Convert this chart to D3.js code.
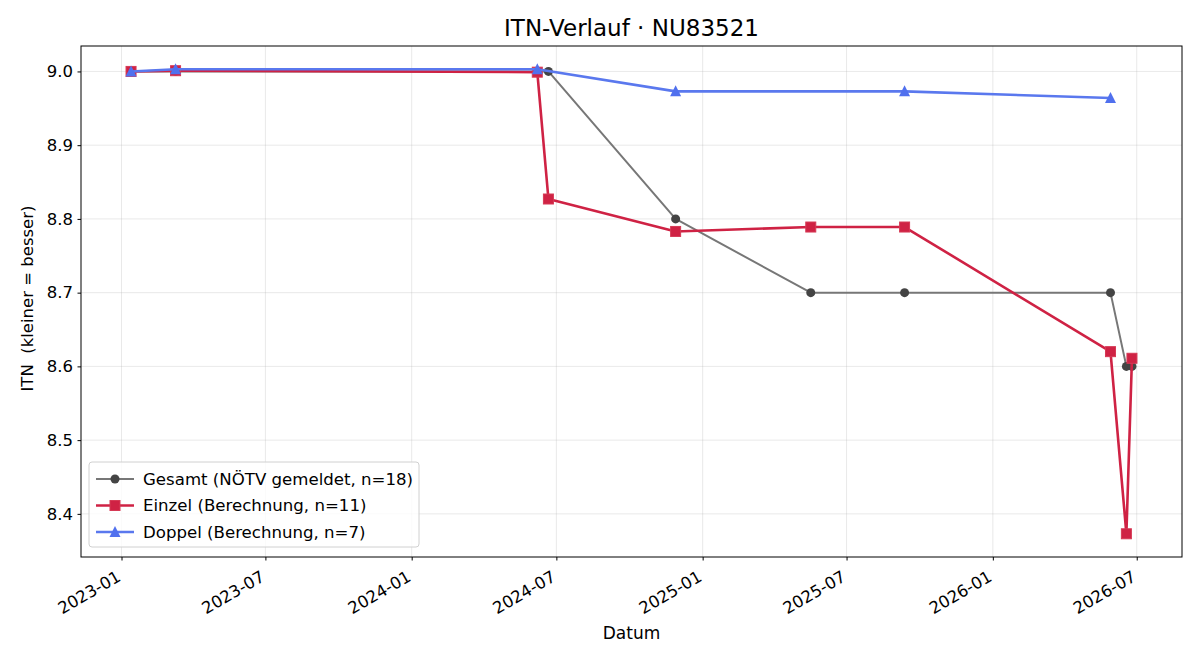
<!DOCTYPE html>
<html><head><meta charset="utf-8">
<script src="https://cdn.jsdelivr.net/npm/d3@7"></script>
<style>body{margin:0;background:#fff;} svg{font-family:"DejaVu Sans",sans-serif;} text{white-space:pre;}</style>
</head><body><svg id="c" width="1200" height="660"></svg>
<script>
const title = "ITN-Verlauf · NU83521";
const xLabel = "Datum";
const yLabel = "ITN  (kleiner = besser)";

const gesamtDates = ["2023-01-13","2023-03-10","2024-06-07","2024-06-21","2024-11-28","2025-05-17","2025-09-12","2026-05-29","2026-06-18","2026-06-25"];
const gesamtValues = [9.0, 9.0, 9.0, 9.0, 8.8, 8.7, 8.7, 8.7, 8.6, 8.6];

const einzelDates = ["2023-01-13","2023-03-10","2024-06-07","2024-06-21","2024-11-28","2025-05-17","2025-09-12","2026-05-29","2026-06-18","2026-06-25"];
const einzelValues = [9.0, 9.001, 8.999, 8.827, 8.783, 8.789, 8.789, 8.62, 8.373, 8.611];

const doppelDates = ["2023-01-13","2023-03-10","2024-06-07","2024-11-28","2025-09-12","2026-05-29"];
const doppelValues = [9.0, 9.003, 9.003, 8.973, 8.973, 8.964];

const xTickDates = ["2023-01-01","2023-07-01","2024-01-01","2024-07-01","2025-01-01","2025-07-01","2026-01-01","2026-07-01"];
const xTickLabels = ["2023-01","2023-07","2024-01","2024-07","2025-01","2025-07","2026-01","2026-07"];
const yTicks = [8.4, 8.5, 8.6, 8.7, 8.8, 8.9, 9.0];

const seriesNames = ["Gesamt (NÖTV gemeldet, n=18)", "Einzel (Berechnung, n=11)", "Doppel (Berechnung, n=7)"];

const parse = d3.utcParse("%Y-%m-%d");
const mk = (ds, vs) => ds.map((d, i) => ({x: parse(d), y: vs[i]}));
const series = [
  {name: seriesNames[0], data: mk(gesamtDates, gesamtValues), line: "#777777", mfill: "#444444", lw: 2, shape: "circle", ms: 4.5},
  {name: seriesNames[1], data: mk(einzelDates, einzelValues), line: "#cf2244", mfill: "#cf2244", lw: 2.6, shape: "square", ms: 10},
  {name: seriesNames[2], data: mk(doppelDates, doppelValues), line: "#5a78ee", mfill: "#5070ee", lw: 2.6, shape: "triangle", ms: 11}
];

const L = 81, R = 1182, T = 46, B = 557;
const svg = d3.select("#c");
const all = series.flatMap(s => s.data);
const xe = d3.extent(all, d => +d.x), ye = d3.extent(all, d => d.y);
const xp = (xe[1] - xe[0]) * 0.05, yp = (ye[1] - ye[0]) * 0.05;
const x = d3.scaleUtc().domain([new Date(xe[0] - xp), new Date(xe[1] + xp)]).range([L, R]);
const y = d3.scaleLinear().domain([ye[0] - yp, ye[1] + yp]).range([B, T]);

// grid
const g = svg.append("g");
g.selectAll(".gx").data(xTickDates).enter().append("line")
  .attr("x1", d => x(parse(d))).attr("x2", d => x(parse(d))).attr("y1", T).attr("y2", B)
  .attr("stroke", "#b0b0b0").attr("stroke-opacity", 0.35).attr("stroke-width", 0.8);
g.selectAll(".gy").data(yTicks).enter().append("line")
  .attr("y1", d => y(d)).attr("y2", d => y(d)).attr("x1", L).attr("x2", R)
  .attr("stroke", "#b0b0b0").attr("stroke-opacity", 0.35).attr("stroke-width", 0.8);

// axes
const xAxis = d3.axisBottom(x).tickValues(xTickDates.map(parse)).tickFormat((d, i) => xTickLabels[i]).tickSize(3.5).tickPadding(3);
const xg = svg.append("g").attr("transform", `translate(0,${B})`).call(xAxis);
xg.attr("font-size", null).attr("font-family", null);
xg.select(".domain").remove();
xg.selectAll("line").attr("stroke", "#000");
xg.selectAll("text").attr("fill", "#000").style("font-size", "16.5px")
  .attr("text-anchor", "end").attr("x", 0).attr("y", 0).attr("dy", "0.35em")
  .attr("transform", "translate(-3,18) rotate(-30)");

const yAxis = d3.axisLeft(y).tickValues(yTicks).tickFormat(d3.format(".1f")).tickSize(3.5).tickPadding(4.5);
const yg = svg.append("g").attr("transform", `translate(${L},0)`).call(yAxis);
yg.attr("font-size", null).attr("font-family", null);
yg.select(".domain").remove();
yg.selectAll("text").attr("fill", "#000").style("font-size", "16.5px");
yg.selectAll("line").attr("stroke", "#000");

// lines & markers
const lineGen = d3.line().x(d => x(d.x)).y(d => y(d.y));
series.forEach(s => {
  svg.append("path").datum(s.data).attr("d", lineGen).attr("fill", "none")
    .attr("stroke", s.line).attr("stroke-width", s.lw).attr("stroke-linejoin", "round");
  s.data.forEach(d => drawMarker(svg, s, x(d.x), y(d.y)));
});

function drawMarker(parent, s, cx, cy) {
  if (s.shape === "circle") {
    parent.append("circle").attr("cx", cx).attr("cy", cy).attr("r", s.ms).attr("fill", s.mfill);
  } else if (s.shape === "square") {
    parent.append("rect").attr("x", cx - s.ms / 2).attr("y", cy - s.ms / 2).attr("width", s.ms).attr("height", s.ms)
      .attr("fill", s.mfill).attr("stroke", "#d63a55").attr("stroke-width", 1);
  } else {
    const h = s.ms;
    parent.append("path").attr("d", `M${cx},${cy - h * 0.55} L${cx + h * 0.5},${cy + h * 0.45} L${cx - h * 0.5},${cy + h * 0.45} Z`)
      .attr("fill", s.mfill);
  }
}

// frame
svg.append("rect").attr("x", L).attr("y", T).attr("width", R - L).attr("height", B - T)
  .attr("fill", "none").attr("stroke", "#000").attr("stroke-width", 1);

// title & labels
svg.append("text").attr("x", (L + R) / 2).attr("y", 36).attr("text-anchor", "middle").style("font-size", "23px").text(title);
svg.append("text").attr("x", (L + R) / 2).attr("y", 639).attr("text-anchor", "middle").style("font-size", "17px").text(xLabel);
svg.append("text").attr("transform", `translate(32.5,${(T + B) / 2 - 3}) rotate(-90)`).attr("text-anchor", "middle").style("font-size", "16.5px").text(yLabel);

// legend
const lg = svg.append("g");
lg.append("rect").attr("x", 89).attr("y", 462).attr("width", 330).attr("height", 85).attr("rx", 3)
  .attr("fill", "#fff").attr("fill-opacity", 0.8).attr("stroke", "#d0d0d0").attr("stroke-width", 1);
series.forEach((s, i) => {
  const ly = 479 + i * 26.5;
  lg.append("line").attr("x1", 96).attr("x2", 134).attr("y1", ly).attr("y2", ly).attr("stroke", s.line).attr("stroke-width", s.lw);
  drawMarker(lg, s, 115, ly);
  lg.append("text").attr("x", 143).attr("y", ly).attr("dy", "0.35em").style("font-size", "16.6px").text(s.name);
});
</script></body></html>
